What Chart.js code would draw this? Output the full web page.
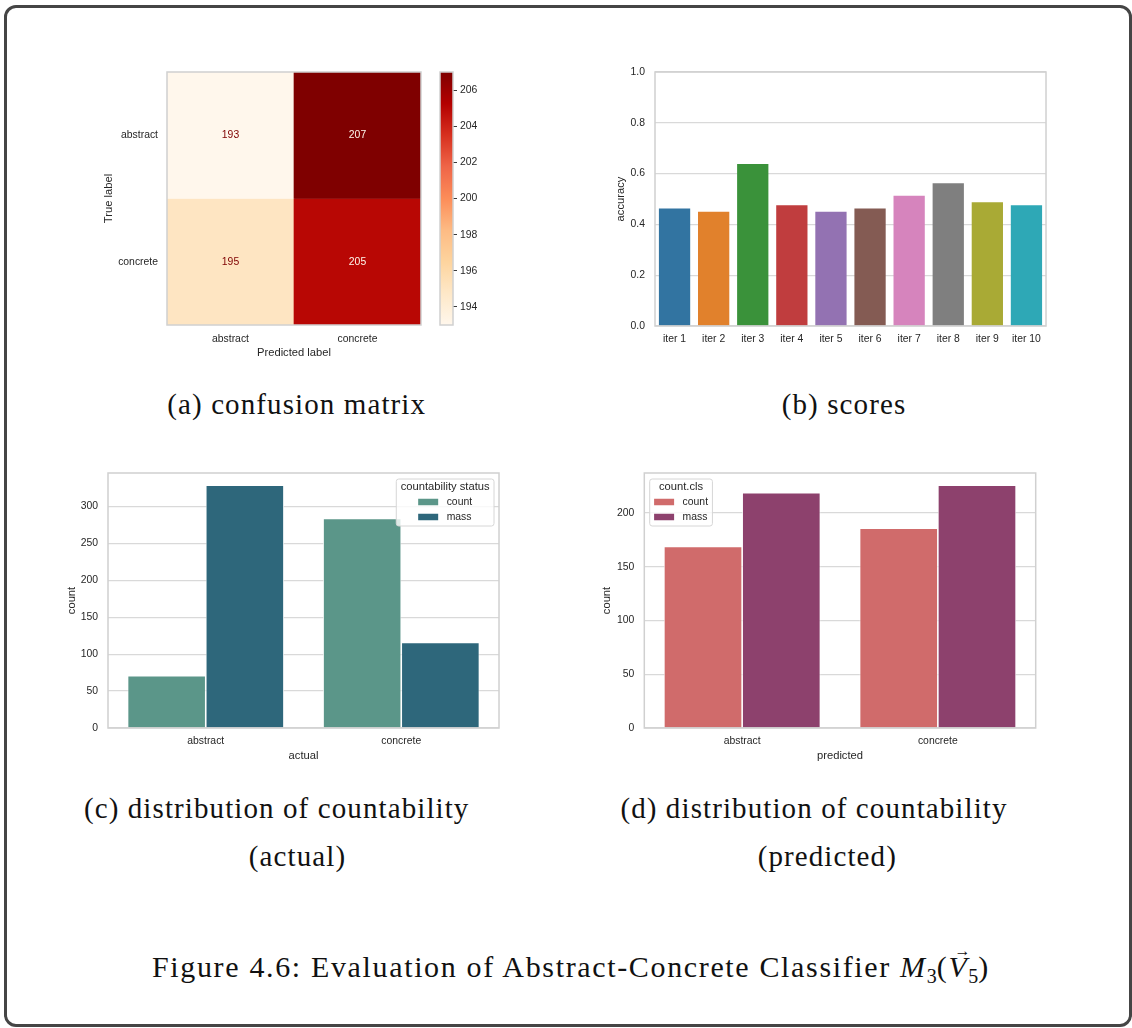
<!DOCTYPE html>
<html><head><meta charset="utf-8">
<script src="https://cdn.jsdelivr.net/npm/chart.js@4.4.0/dist/chart.umd.min.js"></script>
<style>
html,body{margin:0;padding:0;background:#fff;}
body{width:1132px;height:1028px;position:relative;overflow:hidden;font-family:"Liberation Sans",Arial,sans-serif;}
#outer{position:absolute;left:4px;top:5px;width:1128px;height:1022px;border:3.5px solid #454545;border-radius:12px;box-sizing:border-box;}
canvas{position:absolute;}
.cap{position:absolute;font-family:"Liberation Serif","Times New Roman",serif;font-size:29px;line-height:29px;color:#111;white-space:nowrap;letter-spacing:1.1px;transform:translateX(-50%);}
.sub{font-size:20px;position:relative;top:6px;letter-spacing:0;}
.vec{position:relative;display:inline-block;}
.arr{position:absolute;left:6px;top:-10px;font-size:16px;line-height:17px;letter-spacing:0;}
</style></head>
<body>
<div id="outer"></div>
<canvas id="cm" width="335" height="313" style="left:90px;top:52px"></canvas>
<canvas id="cb" width="60" height="305" style="left:435px;top:60px"></canvas>
<canvas id="sc" width="452" height="313" style="left:600px;top:52px"></canvas>
<canvas id="ca" width="450" height="317" style="left:55px;top:453px"></canvas>
<canvas id="cp" width="452" height="317" style="left:590px;top:453px"></canvas>

<div class="cap" style="left:296.7px;top:389.7px">(a) confusion matrix</div>
<div class="cap" style="left:844px;top:389.7px">(b) scores</div>
<div class="cap" style="left:276.7px;top:793.7px">(c) distribution of countability</div>
<div class="cap" style="left:297.5px;top:842.4px">(actual)</div>
<div class="cap" style="left:814px;top:793.7px">(d) distribution of countability</div>
<div class="cap" style="left:827.3px;top:842.4px">(predicted)</div>
<div class="cap" style="left:571px;top:951.9px;font-size:30px;line-height:30px;letter-spacing:1.65px">Figure 4.6: Evaluation of Abstract-Concrete Classifier <i>M</i><span class="sub">3</span>(<span class="vec"><i>V</i><span class="arr">&#x2192;</span></span><span class="sub">5</span>)</div>

<script>
// ---------- data ----------
const cmRows = ['abstract', 'concrete'];          // true labels
const cmCols = ['abstract', 'concrete'];          // predicted labels
const cmAbstractRow = [193, 207];
const cmConcreteRow = [195, 205];
const colorbarTicks = [194, 196, 198, 200, 202, 204, 206];

const iterLabels = ['iter 1', 'iter 2', 'iter 3', 'iter 4', 'iter 5', 'iter 6', 'iter 7', 'iter 8', 'iter 9', 'iter 10'];
const accuracy = [0.4625, 0.45, 0.6375, 0.475, 0.45, 0.4625, 0.5125, 0.5625, 0.4875, 0.475];
const accuracyTicks = [0, 0.2, 0.4, 0.6, 0.8, 1.0];

const classLabels = ['abstract', 'concrete'];
const actualCount = [71, 284];
const actualMass = [329, 116];
const predictedCount = [169, 186];
const predictedMass = [219, 226];

// ---------- styles ----------
const TXT = '#262626';
const GRID = '#d9d9d9';
const FRAME = '#d0d0d0';
const FAM = '"Liberation Sans", Arial, sans-serif';
const iterColors = ['#3274a1', '#e1812c', '#3a923a', '#c03d3e', '#9372b2', '#845b53', '#d684bd', '#7f7f7f', '#a9aa35', '#2ea8b6'];
const OrRd = ['#fff7ec', '#fee8c8', '#fdd49e', '#fdbb84', '#fc8d59', '#ef6548', '#d7301f', '#b30000', '#7f0000'];

Chart.defaults.font.family = FAM;
Chart.defaults.font.size = 10.4;
Chart.defaults.color = TXT;

function hex(h){return [parseInt(h.slice(1,3),16),parseInt(h.slice(3,5),16),parseInt(h.slice(5,7),16)];}
function cmap(t){
  t = Math.max(0, Math.min(1, t));
  const p = t * (OrRd.length - 1), i = Math.min(Math.floor(p), OrRd.length - 2), f = p - i;
  const a = hex(OrRd[i]), b = hex(OrRd[i+1]);
  return 'rgb(' + a.map((v,k)=>Math.round(v + (b[k]-v)*f)).join(',') + ')';
}

const framePlugin = {
  id: 'frame',
  afterDatasetsDraw(chart, args, opts){
    if (!opts || !opts.color) return;
    const {ctx, chartArea: ca} = chart;
    ctx.save();
    ctx.strokeStyle = opts.color; ctx.lineWidth = opts.width || 1.5;
    ctx.strokeRect(ca.left, ca.top, ca.width, ca.height);
    ctx.restore();
  }
};
const boxLegend = {
  id: 'boxLegend',
  afterDraw(chart, args, opts){
    if (!opts || !opts.title) return;
    const {ctx, chartArea: ca} = chart;
    ctx.save();
    ctx.font = '11.2px ' + FAM;
    const tw = ctx.measureText(opts.title).width;
    ctx.font = '10.4px ' + FAM;
    const items = chart.data.datasets.map(d => ({label: d.label, color: d.backgroundColor}));
    const maxL = Math.max(...items.map(it => ctx.measureText(it.label).width));
    const hw = 20, hh = 6.5, gap = 8.5, pad = 4.4;
    const entriesW = hw + gap + maxL;
    const boxW = Math.max(tw, entriesW) + 2 * pad, boxH = 47;
    const left = opts.side === 'right' ? ca.right - 5 - boxW : ca.left + 5.4;
    const top = ca.top + 6;
    ctx.beginPath();
    ctx.roundRect(left, top, boxW, boxH, 2.5);
    ctx.fillStyle = 'rgba(255,255,255,0.8)'; ctx.fill();
    ctx.strokeStyle = '#d6d6d6'; ctx.lineWidth = 1; ctx.stroke();
    ctx.fillStyle = TXT; ctx.textBaseline = 'middle'; ctx.textAlign = 'center';
    ctx.font = '11.2px ' + FAM;
    ctx.fillText(opts.title, left + boxW / 2, top + 8);
    ctx.font = '10.4px ' + FAM; ctx.textAlign = 'left';
    const ex = left + boxW / 2 - entriesW / 2;
    items.forEach((it, i) => {
      const cy = top + 23 + 15 * i;
      ctx.fillStyle = it.color; ctx.fillRect(ex, cy - hh / 2, hw, hh);
      ctx.fillStyle = TXT; ctx.fillText(it.label, ex + hw + gap, cy);
    });
    ctx.restore();
  }
};
Chart.register(framePlugin, boxLegend);

const base = {responsive: false, animation: false, events: [], devicePixelRatio: 1};
const noLegend = {legend: {display: false}, tooltip: {enabled: false}};

// ---------- (a) confusion matrix ----------
const cmValues = [cmAbstractRow, cmConcreteRow];
const allV = cmValues.flat();
const vmin = Math.min(...allV), vmax = Math.max(...allV);
const nRows = cmRows.length;
const cellText = {
  id: 'cellText',
  afterDatasetsDraw(chart){
    const ctx = chart.ctx;
    ctx.save();
    ctx.font = '10.4px ' + FAM; ctx.textAlign = 'center'; ctx.textBaseline = 'middle';
    chart.data.datasets.forEach((ds, di) => {
      chart.getDatasetMeta(di).data.forEach((el, i) => {
        const v = ds.values[i];
        ctx.fillStyle = v < (vmin + vmax) / 2 ? OrRd[OrRd.length - 1] : OrRd[0];
        ctx.fillText(String(v), el.x, (el.y + el.base) / 2);
      });
    });
    ctx.restore();
  }
};
new Chart(document.getElementById('cm'), {
  type: 'bar',
  data: {
    labels: cmCols,
    datasets: cmRows.map((r, ri) => {
      const yb = nRows - 1 - ri;
      return {
        label: r, values: cmValues[ri],
        data: cmValues[ri].map(() => [yb, yb + 1]),
        backgroundColor: cmValues[ri].map(v => cmap((v - vmin) / (vmax - vmin))),
        grouped: false, barPercentage: 1, categoryPercentage: 1, borderWidth: 0
      };
    })
  },
  options: Object.assign({}, base, {
    layout: {padding: {left: 0, top: 20, right: 4, bottom: 0}},
    plugins: Object.assign({}, noLegend, {frame: {color: FRAME, width: 1.5}}),
    scales: {
      x: {grid: {display: false, drawTicks: false}, border: {display: false},
          ticks: {padding: 8, maxRotation: 0},
          title: {display: true, text: 'Predicted label', font: {size: 11.2}, padding: {top: 0, bottom: 5.3}},
          afterFit(s){ s.height = 40; }},
      y: {min: 0, max: nRows, grid: {display: false, drawTicks: false}, border: {display: false},
          afterBuildTicks(s){ s.ticks = cmRows.map((r, ri) => ({value: nRows - 1 - ri + 0.5})).sort((a,b)=>a.value-b.value); },
          ticks: {padding: 9, callback: (v) => cmRows[nRows - 1 - Math.floor(v)]},
          title: {display: true, text: 'True label', font: {size: 11.2}, padding: {top: 11.7, bottom: 0}},
          afterFit(s){ s.width = 77; }}
    }
  }),
  plugins: [cellText]
});

// ---------- colorbar ----------
new Chart(document.getElementById('cb'), {
  type: 'bar',
  data: {labels: [''], datasets: [{
    data: [[vmin, vmax]], barPercentage: 1, categoryPercentage: 1, borderWidth: 0,
    backgroundColor(c){
      const ca = c.chart.chartArea; if (!ca) return OrRd[0];
      const g = c.chart.ctx.createLinearGradient(0, ca.bottom, 0, ca.top);
      OrRd.forEach((col, i) => g.addColorStop(i / (OrRd.length - 1), col));
      return g;
    }
  }]},
  options: Object.assign({}, base, {
    layout: {padding: {left: 5, top: 12, right: 0, bottom: 40}},
    plugins: Object.assign({}, noLegend, {frame: {color: FRAME, width: 1.5}}),
    scales: {
      x: {display: false},
      y: {position: 'right', min: vmin, max: vmax, border: {display: false},
          grid: {display: true, drawOnChartArea: false, drawTicks: true, tickLength: 4, tickColor: '#3a3a3a', tickWidth: 1},
          afterBuildTicks(s){ s.ticks = colorbarTicks.map(v => ({value: v})); },
          ticks: {padding: 3},
          afterFit(s){ s.width = 42; }}
    }
  })
});

// ---------- (b) scores ----------
new Chart(document.getElementById('sc'), {
  type: 'bar',
  data: {labels: iterLabels, datasets: [{label: 'accuracy', data: accuracy, backgroundColor: iterColors,
         barPercentage: 0.8, categoryPercentage: 1, borderWidth: 0}]},
  options: Object.assign({}, base, {
    layout: {padding: {left: 0, top: 20, right: 6, bottom: 0}},
    plugins: Object.assign({}, noLegend, {frame: {color: FRAME, width: 1.5}}),
    scales: {
      x: {grid: {display: false, drawTicks: false}, border: {display: false}, ticks: {padding: 7, maxRotation: 0},
          afterFit(s){ s.height = 39; }},
      y: {min: 0, max: 1, grid: {color: GRID, lineWidth: 1.2, drawTicks: false}, border: {display: false},
          afterBuildTicks(s){ s.ticks = accuracyTicks.map(v => ({value: v})); },
          ticks: {padding: 10, callback: v => v.toFixed(1)},
          title: {display: true, text: 'accuracy', font: {size: 11.2}, padding: {top: 14, bottom: 0}},
          afterFit(s){ s.width = 55; }}
    }
  })
});

// ---------- (c) / (d) count plots ----------
function countChart(id, countVals, massVals, xTitle, legendTitle, side, yW, yTitlePad, padR, colors){
  const ymax = Math.max(...countVals, ...massVals) * 1.05;
  new Chart(document.getElementById(id), {
    type: 'bar',
    data: {labels: classLabels, datasets: [
      {label: 'count', data: countVals, backgroundColor: colors[0]},
      {label: 'mass', data: massVals, backgroundColor: colors[1]}
    ].map(d => Object.assign(d, {barPercentage: 1, categoryPercentage: 0.8, borderWidth: 0.8, borderColor: '#ffffff'}))},
    options: Object.assign({}, base, {
      layout: {padding: {left: 0, top: 20, right: padR, bottom: 0}},
      plugins: Object.assign({}, noLegend, {frame: {color: FRAME, width: 1.5}, boxLegend: {title: legendTitle, side: side}}),
      scales: {
        x: {grid: {display: false, drawTicks: false}, border: {display: false}, ticks: {padding: 7, maxRotation: 0},
            title: {display: true, text: xTitle, font: {size: 11.2}, padding: {top: 0, bottom: 7.3}},
            afterFit(s){ s.height = 42; }},
        y: {min: 0, max: ymax, grid: {color: GRID, lineWidth: 1.2, drawTicks: false}, border: {display: false},
            ticks: {stepSize: 50, padding: 10, includeBounds: false},
            title: {display: true, text: 'count', font: {size: 11.2}, padding: {top: yTitlePad, bottom: 0}},
            afterFit(s){ s.width = yW; }}
      }
    })
  });
}
countChart('ca', actualCount, actualMass, 'actual', 'countability status', 'right', 53, 10, 6, ['#5b9689', '#2e677b']);
countChart('cp', predictedCount, predictedMass, 'predicted', 'count.cls', 'left', 54.3, 10.6, 6.3, ['#d06b6b', '#8d416d']);
</script>
</body></html>
